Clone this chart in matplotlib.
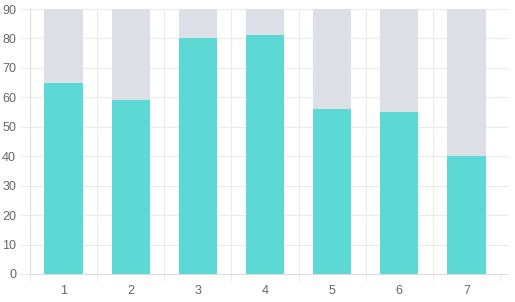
import numpy as np
import matplotlib.pyplot as plt

plt.rcParams['font.family'] = ['Liberation Sans', 'DejaVu Sans']

# data
labels = ['1', '2', '3', '4', '5', '6', '7']
values = [65, 59, 80, 81, 56, 55, 40]
max_value = 90

grid_c = '#ebebeb'
x = np.arange(1, len(labels) + 1)

fig = plt.figure(figsize=(5.15, 3.02), dpi=100)
ax = fig.add_axes([30 / 515, 28 / 302, 470 / 515, 265 / 302])

ax.bar(x, [max_value] * len(x), width=0.57, color='#dcdfe6', zorder=2)
ax.bar(x, values, width=0.57, color='#5cd9d4', zorder=3)

ax.set_xlim(0.5, len(x) + 0.5)
ax.set_ylim(0, 90)
ax.set_yticks(np.arange(0, 91, 10))
ax.set_xticks(x)
ax.set_xticklabels(labels)
ax.set_xticks(np.arange(0.5, len(x) + 1, 1), minor=True)

# horizontal grid runs a little past the last category
ax.hlines(np.arange(10, 91, 10), 0.5, len(x) + 0.5 + 8 / 67, color=grid_c,
          lw=0.8, zorder=0, clip_on=False)
ax.grid(axis='x', which='minor', color=grid_c, lw=0.8, zorder=0)
ax.tick_params(axis='x', which='major', length=0, pad=8, labelsize=9, labelcolor='#666666')
ax.tick_params(axis='x', which='minor', length=5, color=grid_c, width=0.8)
ax.tick_params(axis='y', length=7, color=grid_c, width=0.8, pad=3, labelsize=9, labelcolor='#666666')

for s in ['top', 'right']:
    ax.spines[s].set_visible(False)
for s in ['left', 'bottom']:
    ax.spines[s].set_color('#dddddd')
    ax.spines[s].set_linewidth(0.8)
ax.spines['bottom'].set_bounds(0.5, len(x) + 0.5 + 8 / 67)

fig.savefig('out.png', dpi=100)
